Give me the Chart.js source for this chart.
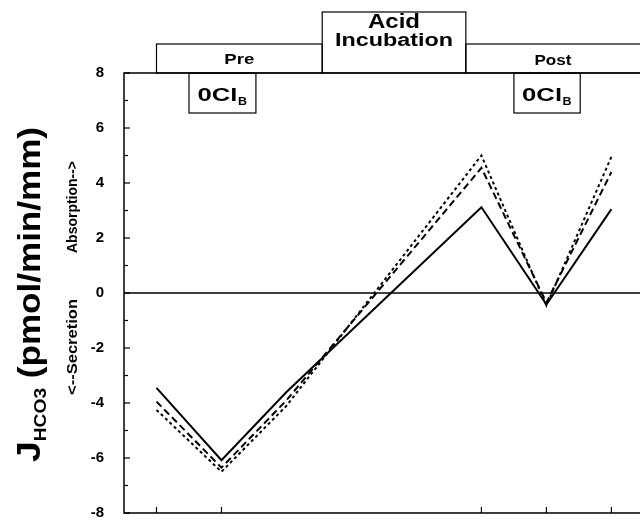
<!DOCTYPE html>
<html>
<head>
<meta charset="utf-8">
<script src="https://cdn.jsdelivr.net/npm/chart.js@4.4.1/dist/chart.umd.min.js"></script>
<style>
  body { margin: 0; background: #fff; }
  #wrap { width: 640px; height: 522px; overflow: hidden; }
</style>
</head>
<body>
<div id="wrap"><canvas id="fluxChart" width="640" height="534"></canvas></div>
<script>
// Time points (position along the protocol)
const timePoints = [0.5, 1.5, 2.5, 5.5, 6.5, 7.5];
// Series values (JHCO3, pmol/min/mm)
const seriesSolid = [-3.45, -6.08, -3.6, 3.12, -0.42, 3.05];
const seriesDash = [-3.95, -6.35, -3.9, 4.55, -0.35, 4.4];
const seriesDot = [-4.25, -6.5, -4.1, 5.0, -0.45, 4.95];
// Axis ticks
const yTicks = [-8, -6, -4, -2, 0, 2, 4, 6, 8];
const xTickPoints = [0.5, 1.5, 5.5, 6.5, 7.5];
// Protocol phases and 0Cl_B periods (in time units)
const phaseNames = ['Pre', 'Acid Incubation', 'Post'];
const phaseBounds = [0.5, 3.05, 5.26, 8.2];
const zeroClBounds = [[1.0, 2.03], [6.0, 7.02]];

const FONT = '"Liberation Sans", Arial, Helvetica, sans-serif';

function toPoints(values) {
    return timePoints.map((t, i) => ({ x: t, y: values[i] }));
}

// draw text squeezed/stretched to a given width, centred on cx
function fitText(ctx, text, font, cx, baseline, width) {
    ctx.save();
    ctx.font = font;
    ctx.textAlign = 'center';
    const w = ctx.measureText(text).width;
    ctx.translate(cx, baseline);
    ctx.scale(width / w, 1);
    ctx.fillText(text, 0, 0);
    ctx.restore();
}

// Plugin to draw frame, inward ticks, zero line, header boxes and axis titles
const decorations = {
    id: 'decorations',
    beforeDatasetsDraw(chart) {
        const { ctx, chartArea, scales } = chart;
        const y = scales.y;
        ctx.save();
        ctx.strokeStyle = '#000';
        // zero line
        ctx.lineWidth = 1.5;
        ctx.beginPath();
        ctx.moveTo(chartArea.left, y.getPixelForValue(0));
        ctx.lineTo(chartArea.right, y.getPixelForValue(0));
        ctx.stroke();
        ctx.restore();
    },
    afterDraw(chart) {
        const { ctx, chartArea, scales } = chart;
        const x = scales.x, y = scales.y;
        const L = chartArea.left, R = chartArea.right, T = chartArea.top, B = chartArea.bottom;
        ctx.save();
        ctx.strokeStyle = '#000';
        ctx.fillStyle = '#000';
        ctx.lineWidth = 1.5;

        // frame (left, bottom, top)
        ctx.beginPath();
        ctx.moveTo(R, T); ctx.lineTo(L, T); ctx.lineTo(L, B); ctx.lineTo(R, B);
        ctx.stroke();

        // y ticks: major every 2, minor in between
        ctx.lineWidth = 1.2;
        for (let v = -8; v <= 8; v++) {
            const py = y.getPixelForValue(v);
            const len = v % 2 === 0 ? 6 : 4;
            ctx.beginPath();
            ctx.moveTo(L, py); ctx.lineTo(L + len, py);
            ctx.stroke();
        }
        // x ticks (inward)
        xTickPoints.forEach(t => {
            const px = x.getPixelForValue(t);
            ctx.beginPath();
            ctx.moveTo(px, B); ctx.lineTo(px, B - 6);
            ctx.stroke();
        });

        // header boxes
        ctx.lineWidth = 1.2;
        const boxes = [
            { x0: phaseBounds[0], x1: phaseBounds[1], top: T - 29 },
            { x0: phaseBounds[1], x1: phaseBounds[2], top: T - 61 },
            { x0: phaseBounds[2], x1: phaseBounds[3], top: T - 29 }
        ];
        boxes.forEach(b => {
            const px0 = x.getPixelForValue(b.x0), px1 = x.getPixelForValue(b.x1);
            ctx.strokeRect(px0, b.top, px1 - px0, T - b.top);
        });
        const mid = i => (x.getPixelForValue(phaseBounds[i]) + x.getPixelForValue(Math.min(phaseBounds[i + 1], 7.94))) / 2;
        fitText(ctx, phaseNames[0], 'bold 15px ' + FONT, mid(0), T - 9, 30);
        fitText(ctx, phaseNames[2], 'bold 14px ' + FONT, mid(2), T - 8, 37);
        const acid = phaseNames[1].split(' ');
        fitText(ctx, acid[0], 'bold 20px ' + FONT, mid(1), T - 45, 52);
        fitText(ctx, acid[1], 'bold 18px ' + FONT, mid(1), T - 27, 118);

        // 0Cl_B boxes
        zeroClBounds.forEach(([a, b]) => {
            const px0 = x.getPixelForValue(a), px1 = x.getPixelForValue(b);
            ctx.strokeRect(px0, T, px1 - px0, 40);
            const c = (px0 + px1) / 2;
            fitText(ctx, '0Cl', 'bold 19px ' + FONT, c - 5, T + 28, 40);
            fitText(ctx, 'B', 'bold 11px ' + FONT, c + 20, T + 32, 9);
        });

        // y axis title: J_HCO3 (pmol/min/mm), fitted between two screen positions
        ctx.textAlign = 'left';
        const parts = [
            { text: 'J', font: 'bold 33px ' + FONT, shift: 0 },
            { text: 'HCO3', font: 'bold 17px ' + FONT, shift: 6 },
            { text: ' (pmol/min/mm)', font: 'bold 31px ' + FONT, shift: 0 }
        ];
        let total = 0;
        parts.forEach(p => { ctx.font = p.font; p.w = ctx.measureText(p.text).width; total += p.w; });
        ctx.save();
        ctx.translate(40, 462);
        ctx.rotate(-Math.PI / 2);
        ctx.scale(335 / total, 1);
        let pos = 0;
        parts.forEach(p => {
            ctx.font = p.font;
            ctx.fillText(p.text, pos, p.shift);
            pos += p.w;
        });
        ctx.restore();

        // secondary title: <--Secretion   Absorption-->
        ctx.save();
        ctx.translate(77, 0);
        ctx.rotate(-Math.PI / 2);
        fitText(ctx, '<--Secretion', 'bold 14px ' + FONT, -347, 0, 96);
        fitText(ctx, 'Absorption-->', 'bold 14px ' + FONT, -207, 0, 92);
        ctx.restore();

        ctx.restore();
    }
};

const ctx = document.getElementById('fluxChart').getContext('2d');
const lineStyle = { borderColor: '#000', borderWidth: 2, pointRadius: 0, tension: 0, fill: false };

new Chart(ctx, {
    type: 'line',
    data: {
        datasets: [
            { label: 'solid', data: toPoints(seriesSolid), ...lineStyle },
            { label: 'dash', data: toPoints(seriesDash), ...lineStyle, borderDash: [7, 4] },
            { label: 'dot', data: toPoints(seriesDot), ...lineStyle, borderDash: [3, 3] }
        ]
    },
    options: {
        responsive: false,
        animation: false,
        layout: { padding: { top: 73, right: 0, left: 0, bottom: 0 } },
        plugins: { legend: { display: false }, tooltip: { enabled: false } },
        scales: {
            x: {
                type: 'linear',
                min: 0,
                max: 7.94,
                grid: { display: false },
                border: { display: false },
                ticks: { display: false },
                afterFit(scale) { scale.height = 10; }
            },
            y: {
                min: -8,
                max: 8,
                grid: { display: false },
                border: { display: false },
                afterBuildTicks(scale) { scale.ticks = yTicks.map(v => ({ value: v })); },
                ticks: {
                    padding: 12,
                    color: '#000',
                    font: { family: FONT, size: 15, weight: 'bold' }
                },
                afterFit(scale) { scale.width = 124; }
            }
        }
    },
    plugins: [decorations]
});
</script>
</body>
</html>
